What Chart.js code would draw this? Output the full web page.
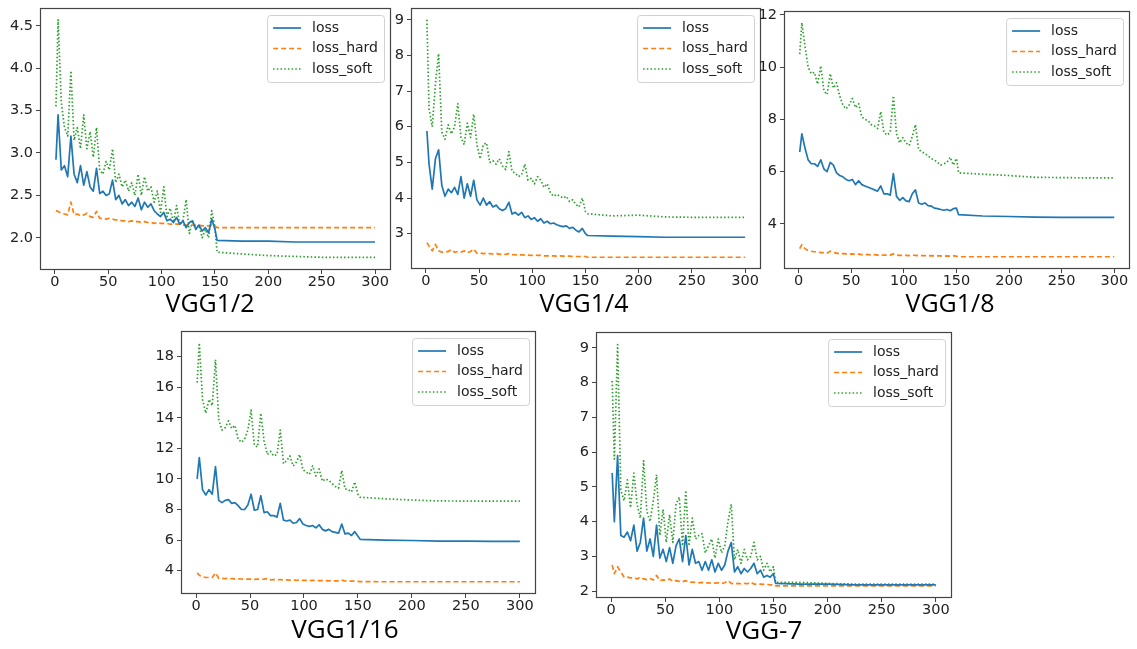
<!DOCTYPE html>
<html>
<head>
<meta charset="utf-8">
<script src="https://cdn.jsdelivr.net/npm/chart.js@4.4.1/dist/chart.umd.min.js"></script>
<style>
  html, body { margin: 0; padding: 0; background: #fff; overflow: hidden; }
  body { width: 1137px; height: 649px; position: relative; }
  canvas { position: absolute; }
</style>
</head>
<body>
<canvas id="c1"></canvas>
<canvas id="c2"></canvas>
<canvas id="c3"></canvas>
<canvas id="c4"></canvas>
<canvas id="c5"></canvas>
<script>
// epochs sampled along the x axis (shared by every panel)
const epochs = [1,3,6,9,12,15,18,21,24,27,
  30,33,36,39,42,45,48,51,54,57,
  60,63,66,69,72,75,78,81,84,87,
  90,93,96,99,102,105,108,111,114,117,
  120,123,126,129,132,135,138,141,144,147,
  150,152,175,200,225,250,275,300];
const xTicks = [0, 50, 100, 150, 200, 250, 300];
const seriesNames = ['loss', 'loss_hard', 'loss_soft'];

// VGG1/2
const vgg2Loss = [2.92,3.45,2.8,2.85,2.72,3.2,2.75,2.65,2.85,2.62,
  2.78,2.6,2.55,2.82,2.52,2.55,2.5,2.52,2.68,2.45,
  2.5,2.4,2.45,2.38,2.42,2.37,2.47,2.33,2.42,2.36,
  2.4,2.32,2.28,2.25,2.3,2.2,2.22,2.18,2.24,2.16,
  2.2,2.12,2.18,2.2,2.1,2.15,2.08,2.12,2.06,2.22,
  2.1,1.97,1.96,1.96,1.95,1.95,1.95,1.95];
const vgg2Hard = [2.32,2.31,2.29,2.28,2.27,2.42,2.27,2.28,2.26,2.27,
  2.29,2.25,2.24,2.31,2.23,2.23,2.22,2.23,2.22,2.21,
  2.21,2.2,2.2,2.19,2.2,2.19,2.19,2.18,2.19,2.18,
  2.18,2.17,2.18,2.17,2.17,2.17,2.16,2.16,2.16,2.16,
  2.15,2.15,2.15,2.15,2.15,2.15,2.14,2.14,2.14,2.15,
  2.14,2.12,2.12,2.12,2.12,2.12,2.12,2.12];
const vgg2Soft = [3.55,4.57,3.6,3.3,3.2,3.97,3.15,3.3,3.05,3.45,
  3.05,3.25,2.95,3.3,2.8,2.75,2.9,2.8,3.05,2.65,
  2.75,2.6,2.68,2.55,2.65,2.5,2.75,2.5,2.72,2.55,
  2.6,2.42,2.55,2.3,2.6,2.25,2.35,2.18,2.38,2.15,
  2.2,2.45,2.05,2.2,2.1,2.15,2.0,2.1,2.0,2.32,
  2.12,1.83,1.81,1.79,1.78,1.77,1.77,1.77];
const vgg2Ticks = [2.0, 2.5, 3.0, 3.5, 4.0, 4.5];

// VGG1/4
const vgg4Loss = [5.88,4.95,4.25,5.1,5.35,4.35,4.05,4.25,4.15,4.3,
  4.1,4.6,4.0,4.4,4.05,4.5,3.95,3.8,4.0,3.8,
  3.9,3.75,3.8,3.7,3.65,3.7,3.88,3.55,3.6,3.52,
  3.6,3.45,3.5,3.4,3.45,3.35,3.42,3.3,3.35,3.28,
  3.3,3.25,3.22,3.2,3.22,3.15,3.18,3.1,3.05,3.15,
  3.0,2.95,2.93,2.92,2.9,2.9,2.9,2.9];
const vgg4Hard = [2.75,2.65,2.52,2.7,2.52,2.48,2.5,2.5,2.55,2.48,
  2.5,2.48,2.52,2.47,2.5,2.57,2.45,2.46,2.44,2.45,
  2.44,2.43,2.45,2.42,2.43,2.42,2.44,2.41,2.41,2.4,
  2.41,2.4,2.4,2.39,2.4,2.39,2.39,2.38,2.38,2.38,
  2.38,2.37,2.38,2.37,2.37,2.37,2.36,2.36,2.36,2.36,
  2.36,2.34,2.34,2.34,2.34,2.34,2.34,2.34];
const vgg4Soft = [9.0,6.5,6.0,7.2,8.05,5.85,5.65,6.05,5.8,6.0,
  6.65,5.7,5.5,6.1,5.7,6.35,5.5,5.1,5.5,5.55,
  5.0,5.05,4.95,5.1,4.9,4.8,5.3,4.75,4.7,4.6,
  4.65,4.95,4.5,4.55,4.4,4.6,4.5,4.3,4.4,4.15,
  4.05,4.1,4.05,4.0,4.05,3.9,3.95,3.82,3.75,4.0,
  3.62,3.56,3.5,3.52,3.47,3.46,3.46,3.46];
const vgg4Ticks = [3, 4, 5, 6, 7, 8, 9];

// VGG1/8
const vgg8Loss = [6.75,7.45,6.9,6.45,6.3,6.3,6.2,6.45,6.1,6.0,
  6.35,6.25,5.95,5.85,5.8,5.7,5.65,5.7,5.5,5.65,
  5.5,5.45,5.4,5.35,5.3,5.25,5.45,5.15,5.15,5.1,
  5.92,5.05,4.9,5.0,4.88,4.85,5.15,5.3,4.8,4.75,
  4.8,4.7,4.68,4.6,4.58,4.55,4.52,4.55,4.5,4.58,
  4.6,4.35,4.3,4.28,4.26,4.25,4.25,4.25];
const vgg8Hard = [3.05,3.2,3.05,2.98,2.95,2.93,2.92,2.9,2.9,2.88,
  2.95,2.9,2.88,2.85,2.86,2.85,2.84,2.85,2.83,2.84,
  2.82,2.83,2.82,2.81,2.82,2.8,2.81,2.8,2.8,2.8,
  2.85,2.8,2.79,2.79,2.79,2.78,2.8,2.79,2.78,2.78,
  2.78,2.77,2.78,2.77,2.77,2.77,2.76,2.77,2.76,2.77,
  2.76,2.74,2.74,2.74,2.74,2.74,2.74,2.74];
const vgg8Soft = [10.5,11.7,10.8,10.0,9.75,9.8,9.35,10.05,9.1,8.95,
  9.75,9.2,9.4,8.9,8.55,8.4,8.55,8.8,8.45,8.6,
  8.1,8.0,7.95,7.8,7.75,7.65,8.3,7.5,7.4,7.5,
  8.9,7.45,7.1,7.3,7.1,7.0,7.35,7.8,6.85,6.75,
  6.7,6.6,6.5,6.45,6.35,6.25,6.3,6.35,6.55,6.25,
  6.5,5.95,5.9,5.85,5.78,5.77,5.76,5.76];
const vgg8Ticks = [4, 6, 8, 10, 12];

// VGG1/16
const vgg16Loss = [10.0,11.4,9.3,8.95,9.3,9.0,10.8,8.6,8.45,8.6,
  8.65,8.4,8.45,8.25,8.0,8.0,8.3,9.0,7.95,8.0,
  8.9,7.8,7.85,7.6,7.6,7.5,8.4,7.3,7.25,7.3,
  7.1,7.15,7.4,7.05,6.95,6.9,6.95,6.8,7.0,6.7,
  6.6,6.7,6.55,6.5,6.45,7.05,6.4,6.45,6.3,6.55,
  6.25,6.05,6.0,5.97,5.93,5.93,5.92,5.92];
const vgg16Hard = [3.85,3.7,3.58,3.55,3.55,3.55,3.85,3.5,3.5,3.48,
  3.5,3.47,3.46,3.46,3.45,3.44,3.45,3.44,3.43,3.44,
  3.43,3.44,3.48,3.4,3.41,3.4,3.41,3.39,3.4,3.38,
  3.38,3.37,3.38,3.36,3.37,3.35,3.36,3.35,3.34,3.34,
  3.34,3.33,3.34,3.33,3.33,3.38,3.32,3.32,3.31,3.32,
  3.3,3.28,3.27,3.27,3.27,3.27,3.27,3.27];
const vgg16Soft = [16.3,18.9,15.2,14.3,15.2,14.8,17.8,13.9,13.2,13.35,
  13.8,13.3,13.5,12.6,12.4,12.6,13.2,14.5,12.2,12.1,
  14.3,12.5,11.6,11.8,11.5,11.6,13.2,11.0,11.2,11.5,
  10.85,11.1,11.6,10.6,10.45,10.3,10.85,10.2,10.65,9.85,
  10.0,9.9,9.7,9.5,9.4,10.55,9.35,9.3,9.15,9.8,
  9.0,8.8,8.7,8.62,8.56,8.55,8.55,8.55];
const vgg16Ticks = [4, 6, 8, 10, 12, 14, 16, 18];

// VGG-7
const vgg7Loss = [5.4,4.0,5.9,3.6,3.55,3.7,3.45,3.9,3.15,3.4,
  4.1,3.15,3.5,3.0,3.9,2.95,3.2,2.85,3.25,2.8,
  3.3,3.5,2.85,3.6,2.75,3.2,2.8,2.85,2.6,2.85,
  2.6,2.9,2.55,2.8,2.6,2.75,3.15,3.4,2.55,2.7,
  2.5,2.65,2.55,2.65,2.8,2.5,2.6,2.4,2.45,2.4,
  2.5,2.22,2.2,2.2,2.18,2.18,2.18,2.18];
const vgg7Hard = [2.75,2.5,2.7,2.55,2.4,2.4,2.38,2.38,2.35,2.4,
  2.35,2.33,2.36,2.32,2.45,2.3,2.32,2.3,2.35,2.28,
  2.3,2.28,2.27,2.3,2.25,2.26,2.25,2.24,2.25,2.23,
  2.24,2.22,2.23,2.24,2.22,2.24,2.3,2.22,2.21,2.22,
  2.21,2.22,2.21,2.25,2.2,2.2,2.2,2.19,2.19,2.18,
  2.18,2.15,2.15,2.15,2.15,2.15,2.15,2.15];
const vgg7Soft = [8.05,5.8,9.1,4.9,4.6,5.2,4.4,5.4,4.5,4.1,
  5.75,4.3,4.0,4.6,5.35,3.6,4.35,3.4,4.2,3.4,
  4.5,4.7,3.3,4.9,3.3,4.1,3.5,3.6,3.65,3.1,
  3.3,3.5,2.95,3.5,3.1,3.3,4.0,4.5,2.9,3.2,
  2.8,3.2,2.9,3.0,3.4,2.9,3.0,2.6,2.8,2.55,
  2.7,2.25,2.25,2.22,2.2,2.2,2.2,2.2];
const vgg7Ticks = [2, 3, 4, 5, 6, 7, 8, 9];

// layout of the five panels (axes box in page pixels: left, top, right, bottom)
const panels = [
  { id: 'c1', title: 'VGG1/2',  series: [vgg2Loss, vgg2Hard, vgg2Soft],   yTicks: vgg2Ticks,  dec: 1, yMin: 1.62, yMax: 4.71,  box: [40, 8, 391, 270],    titleX: 210, titleY: 305, titleSize: 25 },
  { id: 'c2', title: 'VGG1/4',  series: [vgg4Loss, vgg4Hard, vgg4Soft],   yTicks: vgg4Ticks,  dec: 0, yMin: 2.01, yMax: 9.33,  box: [411, 8, 761, 269],   titleX: 584, titleY: 305, titleSize: 25 },
  { id: 'c3', title: 'VGG1/8',  series: [vgg8Loss, vgg8Hard, vgg8Soft],   yTicks: vgg8Ticks,  dec: 0, yMin: 2.27, yMax: 12.15, box: [784, 11, 1130, 269], titleX: 950, titleY: 305, titleSize: 25 },
  { id: 'c4', title: 'VGG1/16', series: [vgg16Loss, vgg16Hard, vgg16Soft], yTicks: vgg16Ticks, dec: 0, yMin: 2.47, yMax: 19.68, box: [181, 331, 536, 594], titleX: 345, titleY: 631, titleSize: 26 },
  { id: 'c5', title: 'VGG-7',   series: [vgg7Loss, vgg7Hard, vgg7Soft],   yTicks: vgg7Ticks,  dec: 0, yMin: 1.8,  yMax: 9.46,  box: [596, 332, 952, 598], titleX: 764, titleY: 632, titleSize: 26 }
];

const Y_AXIS_W = 42, PAD_TOP = 8, PAD_RIGHT = 12, X_BLOCK = 62;
const colors = ['#1f77b4', '#ff7f0e', '#2ca02c'];
const dashes = [[], [5, 3], [1.5, 2.2]];
const tickFont = { family: 'DejaVu Sans', size: 14.5 };

const framePlugin = {
  id: 'frame',
  afterDatasetsDraw(chart) {
    const { ctx, chartArea: a } = chart;
    ctx.save();
    ctx.strokeStyle = '#444';
    ctx.lineWidth = 1.2;
    ctx.strokeRect(Math.round(a.left) + 0.5, Math.round(a.top) + 0.5,
      Math.round(a.right - a.left) - 1, Math.round(a.bottom - a.top) - 1);
    ctx.restore();
  }
};

const legendPlugin = {
  id: 'boxLegend',
  afterDatasetsDraw(chart) {
    const { ctx, chartArea: a } = chart;
    const sets = chart.data.datasets;
    ctx.save();
    ctx.font = '14px "DejaVu Sans"';
    const textW = Math.max(...sets.map(d => ctx.measureText(d.label).width));
    const w = 45 + textW + 6, h = 67;
    const x = a.right - 7 - w, y = a.top + 7;
    ctx.beginPath();
    ctx.roundRect(x + 0.5, y + 0.5, w, h, 3);
    ctx.fillStyle = 'rgba(255,255,255,0.85)';
    ctx.fill();
    ctx.strokeStyle = 'rgba(204,204,204,0.9)';
    ctx.lineWidth = 1;
    ctx.stroke();
    sets.forEach((d, i) => {
      const yy = y + 13 + i * 20.5;
      ctx.beginPath();
      ctx.setLineDash(d.borderDash || []);
      ctx.strokeStyle = d.borderColor;
      ctx.lineWidth = 1.7;
      ctx.moveTo(x + 6, yy);
      ctx.lineTo(x + 34, yy);
      ctx.stroke();
      ctx.setLineDash([]);
      ctx.fillStyle = '#222';
      ctx.textBaseline = 'middle';
      ctx.textAlign = 'left';
      ctx.fillText(d.label, x + 45, yy);
    });
    ctx.restore();
  }
};

const titlePlugin = {
  id: 'panelTitle',
  afterDraw(chart, args, opts) {
    const ctx = chart.ctx;
    ctx.save();
    ctx.font = opts.size + 'px "Open Sans"';
    ctx.fillStyle = '#000';
    ctx.textAlign = 'center';
    ctx.textBaseline = 'middle';
    ctx.fillText(opts.text, opts.x, opts.y);
    ctx.restore();
  }
};

function zeroPad(s) {
  s.paddingTop = 0; s.paddingBottom = 0; s.paddingLeft = 0; s.paddingRight = 0;
}

panels.forEach(p => {
  const cv = document.getElementById(p.id);
  const left = p.box[0] - Y_AXIS_W;
  const top = p.box[1] - PAD_TOP;
  const w = p.box[2] - left + PAD_RIGHT;
  const h = p.box[3] - top + X_BLOCK;
  cv.width = w; cv.height = h;
  cv.style.left = left + 'px'; cv.style.top = top + 'px';
  cv.style.width = w + 'px'; cv.style.height = h + 'px';

  new Chart(cv, {
    type: 'line',
    data: {
      datasets: p.series.map((vals, k) => ({
        label: seriesNames[k],
        data: epochs.map((e, i) => ({ x: e, y: vals[i] })),
        borderColor: colors[k],
        borderDash: dashes[k],
        borderWidth: 1.7,
        borderJoinStyle: 'round',
        pointRadius: 0,
        tension: 0,
        fill: false
      }))
    },
    options: {
      responsive: false,
      animation: false,
      devicePixelRatio: 1,
      layout: { padding: { top: PAD_TOP, right: PAD_RIGHT, left: 0, bottom: 0 }, autoPadding: false },
      plugins: {
        legend: { display: false },
        tooltip: { enabled: false },
        title: { display: false },
        panelTitle: { text: p.title, x: p.titleX - left, y: p.titleY - top, size: p.titleSize }
      },
      scales: {
        x: {
          type: 'linear',
          min: -13.95,
          max: 314.95,
          afterBuildTicks: s => { s.ticks = xTicks.map(v => ({ value: v })); },
          afterFit: s => { s.height = X_BLOCK; zeroPad(s); },
          grid: { drawOnChartArea: false, tickLength: 4, color: '#444' },
          border: { display: false },
          ticks: { padding: 0, font: tickFont, color: '#222', maxRotation: 0, autoSkip: false }
        },
        y: {
          min: p.yMin,
          max: p.yMax,
          afterBuildTicks: s => { s.ticks = p.yTicks.map(v => ({ value: v })); },
          afterFit: s => { s.width = Y_AXIS_W; zeroPad(s); },
          grid: { drawOnChartArea: false, tickLength: 4, color: '#444' },
          border: { display: false },
          ticks: { padding: 3, font: tickFont, color: '#222', callback: v => Number(v).toFixed(p.dec) }
        }
      }
    },
    plugins: [framePlugin, legendPlugin, titlePlugin]
  });
});
</script>
</body>
</html>
